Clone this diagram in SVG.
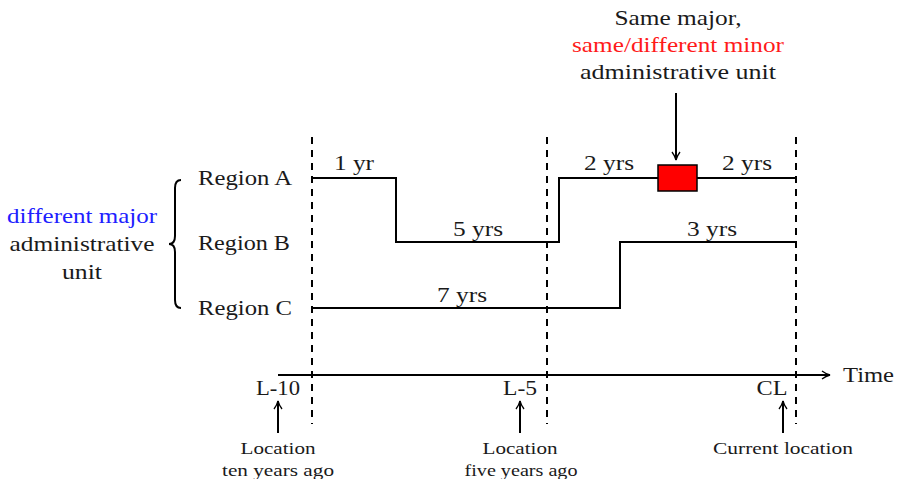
<svg xmlns="http://www.w3.org/2000/svg" width="898" height="479" viewBox="0 0 898 479">
<defs>
<marker id="ah" viewBox="0 0 10 10" refX="9" refY="5" markerWidth="10" markerHeight="10" markerUnits="userSpaceOnUse" orient="auto">
<path d="M1,1 Q5,4 9,5 Q5,6 1,9" fill="none" stroke="#000" stroke-width="1.3"/>
</marker>
</defs>
<style>
text{font-family:"Liberation Serif","DejaVu Serif",serif;fill:#1a1a1a}
.m{font-size:22px}
.s{font-size:17px}
.c{text-anchor:middle}
.ln{fill:none;stroke:#000;stroke-width:2}
.ds{fill:none;stroke:#000;stroke-width:2;stroke-dasharray:7,6}
.ar{fill:none;stroke:#000;stroke-width:2;marker-end:url(#ah)}
</style>
<rect width="898" height="479" fill="#fff"/>
<g id="left-label">
<text class="m c" x="82" y="223" textLength="150" lengthAdjust="spacingAndGlyphs" style="fill:#2020ff">different major</text>
<text class="m c" x="82" y="251" textLength="145" lengthAdjust="spacingAndGlyphs">administrative</text>
<text class="m c" x="82" y="279" textLength="40" lengthAdjust="spacingAndGlyphs">unit</text>
<path class="ln" stroke-width="1.8" d="M181,180 Q175,180 175,188 L175,236 Q175,244 169,244 Q175,244 175,252 L175,300 Q175,308 181,308"/>
</g>
<g id="region-labels">
<text class="m" x="198" y="185" textLength="94" lengthAdjust="spacingAndGlyphs">Region A</text>
<text class="m" x="198" y="250" textLength="92" lengthAdjust="spacingAndGlyphs">Region B</text>
<text class="m" x="198" y="315" textLength="94" lengthAdjust="spacingAndGlyphs">Region C</text>
</g>
<g id="guides">
<line class="ds" x1="312" y1="137" x2="312" y2="424"/>
<line class="ds" x1="547" y1="137" x2="547" y2="424"/>
<line class="ds" x1="796" y1="137" x2="796" y2="424"/>
</g>
<g id="connectors">
<path class="ln" d="M312,178 H396 V242 H559 V178 H658"/>
<path class="ln" d="M697,178 H796"/>
<path class="ln" d="M312,308 H620 V242 H796"/>
<line class="ar" x1="676" y1="93" x2="676" y2="160"/>
<line class="ar" x1="278" y1="375" x2="830" y2="375"/>
<line class="ar" x1="278" y1="433" x2="278" y2="401"/>
<line class="ar" x1="520" y1="433" x2="520" y2="401"/>
<line class="ar" x1="783" y1="433" x2="783" y2="401"/>
</g>
<g id="durations">
<text class="m c" x="354" y="170" textLength="40" lengthAdjust="spacingAndGlyphs">1 yr</text>
<text class="m c" x="478" y="236" textLength="50" lengthAdjust="spacingAndGlyphs">5 yrs</text>
<text class="m c" x="462" y="302" textLength="50" lengthAdjust="spacingAndGlyphs">7 yrs</text>
<text class="m c" x="609" y="170" textLength="50" lengthAdjust="spacingAndGlyphs">2 yrs</text>
<text class="m c" x="747" y="170" textLength="50" lengthAdjust="spacingAndGlyphs">2 yrs</text>
<text class="m c" x="712" y="236" textLength="50" lengthAdjust="spacingAndGlyphs">3 yrs</text>
</g>
<g id="red-box">
<rect x="658" y="165" width="39" height="26" fill="#ff0000" stroke="#000" stroke-width="1.5"/>
</g>
<g id="top-label">
<text class="m c" x="678" y="25" textLength="127" lengthAdjust="spacingAndGlyphs">Same major,</text>
<text class="m c" x="678" y="52" textLength="212" lengthAdjust="spacingAndGlyphs" style="fill:#ff1a1a">same/different minor</text>
<text class="m c" x="678" y="79" textLength="196" lengthAdjust="spacingAndGlyphs">administrative unit</text>
</g>
<g id="axis-labels">
<text class="m" x="843" y="382" textLength="51" lengthAdjust="spacingAndGlyphs">Time</text>
<text class="m c" x="278" y="395" textLength="44" lengthAdjust="spacingAndGlyphs">L-10</text>
<text class="m c" x="520" y="395" textLength="34" lengthAdjust="spacingAndGlyphs">L-5</text>
<text class="m c" x="772" y="395" textLength="31" lengthAdjust="spacingAndGlyphs">CL</text>
</g>
<g id="point-labels">
<text class="s c" x="278" y="454" textLength="75" lengthAdjust="spacingAndGlyphs">Location</text>
<text class="s c" x="278" y="476" textLength="112" lengthAdjust="spacingAndGlyphs">ten years ago</text>
<text class="s c" x="520" y="454" textLength="75" lengthAdjust="spacingAndGlyphs">Location</text>
<text class="s c" x="521" y="476" textLength="113" lengthAdjust="spacingAndGlyphs">five years ago</text>
<text class="s c" x="783" y="454" textLength="140" lengthAdjust="spacingAndGlyphs">Current location</text>
</g>
</svg>
